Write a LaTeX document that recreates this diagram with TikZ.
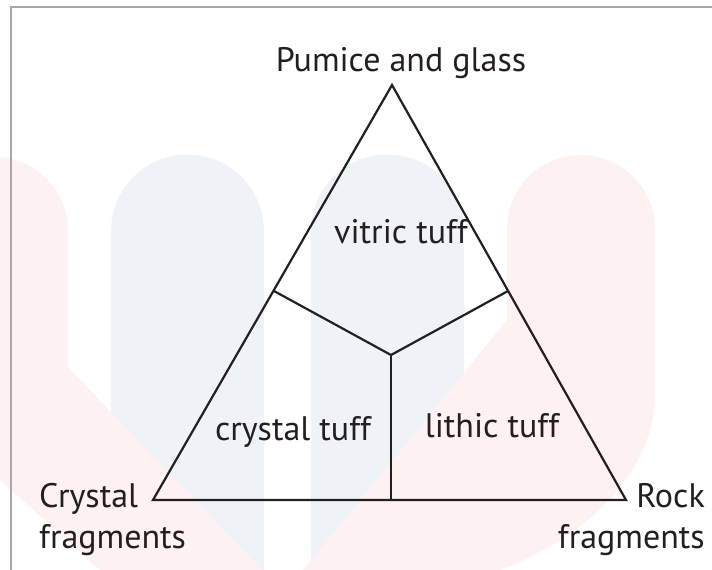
\documentclass[tikz,border=0pt]{standalone}
\usepackage{fontspec}
\setmainfont{PT Sans}
\usepackage{tikz}
\usetikzlibrary{positioning,calc}
\definecolor{cInk}{HTML}{231F20}
\definecolor{cFrame}{HTML}{A8A8A8}
\definecolor{cPink}{HTML}{FDF1F1}
\definecolor{cPale}{HTML}{EFF3F8}

\begin{document}
\begin{tikzpicture}[x=1pt, y=-1pt,
  edge/.style={draw=cInk, line width=2.2pt, line join=miter},
  lbl/.style={text=cInk, font=\fontsize{34}{41}\selectfont, inner sep=0pt}]
  \useasboundingbox (0,0) rectangle (712,570);
  % faint watermark
  \fill[cPale] (111,570) -- (111,231) arc[start angle=180, end angle=360, radius=76.5] -- (264,570) -- cycle;
  \fill[cPale] (311,570) -- (311,231) arc[start angle=180, end angle=360, radius=76.5] -- (464,570) -- cycle;
  \fill[cPink] (0,480) -- (0,231) -- (-80,231) arc[start angle=180, end angle=360, radius=74] -- (68,367) -- (262,570) -- (100,570) -- cycle;
  \fill[cPink] (507,570) -- (303,570) -- (507,320) -- (507,229) arc[start angle=180, end angle=360, radius=74] -- (655,400) .. controls (650,480) and (580,540) .. (500,570) -- cycle;
  % frame
  \draw[cFrame, line width=1.5pt] (11,570) -- (11,7) -- (712,7);
  % ternary diagram
  \coordinate (apex) at (392,85);
  \coordinate (crys) at (153,500);
  \coordinate (rock) at (626,500);
  \coordinate (lj) at (274,291);
  \coordinate (rj) at (508,291);
  \coordinate (ctr) at (391,355);
  \coordinate (bot) at (391,500);
  \draw[edge] (apex) -- (crys) -- (rock) -- cycle;
  \draw[edge] (lj) -- (ctr) -- (rj);
  \draw[edge] (ctr) -- (bot);
  % labels
  \node[lbl, anchor=base] (pumice) at (401,71) {Pumice and glass};
  \node[lbl, anchor=base] (vitric) at (401,243) {vitric tuff};
  \node[lbl, anchor=base] (crystuff) at (293,440) {crystal tuff};
  \node[lbl, anchor=base] (lithic) at (492,437) {lithic tuff};
  \node[lbl, align=left, anchor=base west] (cfrag) at (39,548) {Crystal\\fragments};
  \node[lbl, align=right, anchor=base east] (rfrag) at (705,548) {Rock\\fragments};
\end{tikzpicture}
\end{document}
